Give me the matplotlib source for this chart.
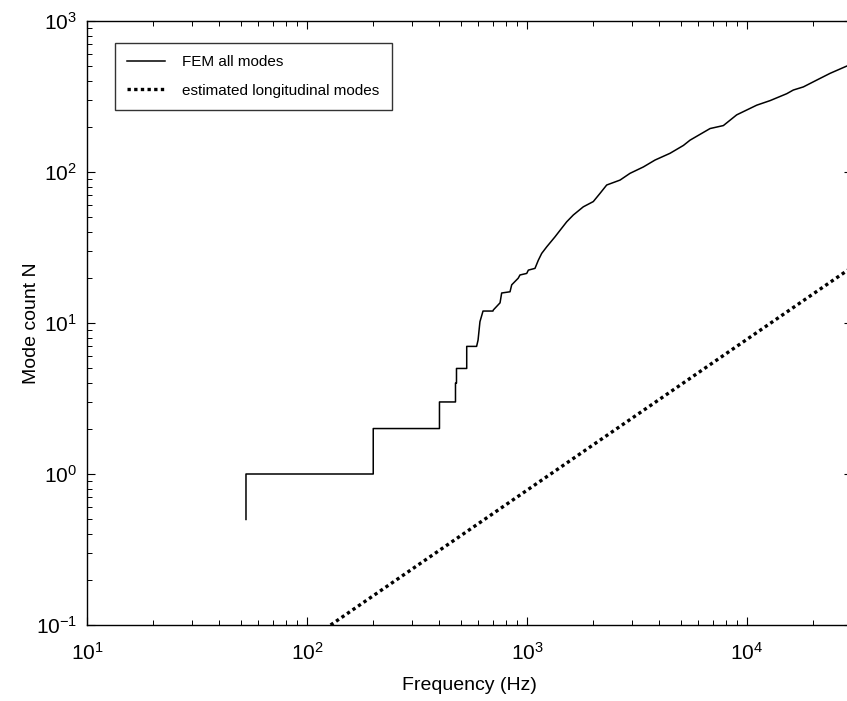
import matplotlib
matplotlib.use('Agg')
import matplotlib.pyplot as plt

plt.rcParams['font.family'] = ['Liberation Sans', 'DejaVu Sans']
plt.rcParams['mathtext.fontset'] = 'custom'
plt.rcParams['mathtext.rm'] = 'Liberation Sans'
plt.rcParams['mathtext.it'] = 'Liberation Sans'
plt.rcParams['axes.unicode_minus'] = False

# FEM cumulative mode count
fem_freq = [52.8, 52.8, 200, 200, 400, 400, 473, 473, 478, 478, 532, 532, 590,
            599, 611, 631, 700, 703, 754, 767, 837, 852, 912, 929, 997, 1014,
            1087, 1125, 1166, 1230, 1340, 1413, 1515, 1623, 1802, 2001, 2147,
            2302, 2647, 2939, 3379, 3818, 4467, 5140, 5508, 6792, 7806, 8974,
            11066, 12730, 15150, 16230, 18030, 20730, 23840, 27870, 30000]
fem_count = [0.5, 1, 1, 2, 2, 3, 3, 4, 4, 5, 5, 7, 7,
             7.7, 10.2, 12, 12, 12.2, 13.6, 15.8, 16.1, 17.9, 19.8, 20.8, 21.3, 22.4,
             23, 26, 28.9, 32, 37.2, 41.1, 46.8, 51.9, 58.8, 63.7, 72.2,
             82, 88.4, 98, 108, 120, 133, 150, 162.5, 194, 203, 239,
             277, 297, 330, 349, 366, 406, 450, 497, 520]

# estimated longitudinal modes (straight line on log-log)
long_freq = [128, 30000]
long_count = [0.1, 23.4]

fig = plt.figure(figsize=(8.47, 7.01), dpi=100)
ax = fig.add_axes([87 / 847, 76 / 701, 765 / 847, 604 / 701])

ax.plot(fem_freq, fem_count, color='black', linewidth=1.1, label='FEM all modes')
ax.plot(long_freq, long_count, color='black', linestyle=(0, (1, 1)), linewidth=2.4,
        label='estimated longitudinal modes')

ax.set_xscale('log')
ax.set_yscale('log')
ax.set_xlim(10, 3e4)
ax.set_ylim(0.1, 1000)

ax.tick_params(which='both', direction='in', top=True, right=True, labelsize=15)
ax.tick_params(which='major', length=6, width=0.8)
ax.tick_params(which='minor', length=3.5, width=0.7)
ax.tick_params(axis='x', pad=12)
ax.tick_params(axis='y', pad=7)
for s in ax.spines.values():
    s.set_linewidth(1.0)

ax.set_xlabel('Frequency (Hz)', fontsize=14, labelpad=10)
ax.set_ylabel('Mode count N', fontsize=14, labelpad=-3)

leg = ax.legend(loc='upper left', bbox_to_anchor=(28 / 765, 1 - 22 / 604), fontsize=11,
                frameon=True, fancybox=False, edgecolor='black', borderaxespad=0,
                handlelength=2.5, handletextpad=1.1, labelspacing=0.95, borderpad=0.8)
leg.get_frame().set_linewidth(1.0)

fig.savefig('out.png', dpi=100)
